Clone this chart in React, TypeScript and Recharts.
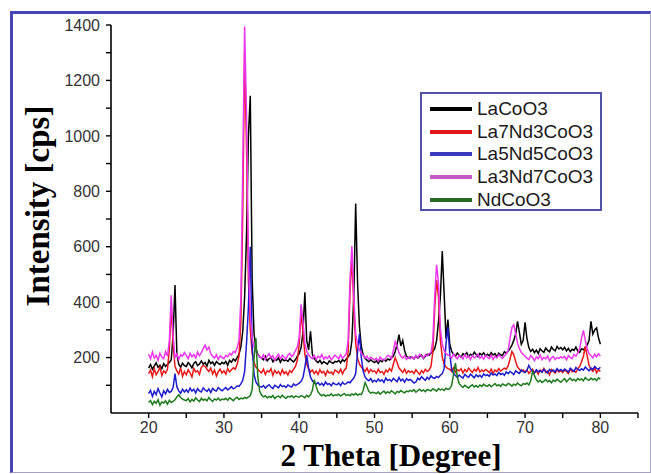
import React from "react";
import { LineChart, Line, XAxis, YAxis, Legend } from "recharts";

// 2-theta sampling grid, 20..80 deg every 0.25 deg
const theta = Array.from({ length: 241 }, (_, i) => 20 + i * 0.25);

// intensities [cps], one row = 5 degrees (20 points), last value at 80 deg
const laCoO3 = [
  162, 175, 158, 170, 181, 165, 172, 160, 178, 168, 175, 182, 192, 280, 462, 212, 176, 165, 180, 171,
  168, 182, 174, 163, 179, 185, 171, 177, 188, 176, 182, 169, 190, 178, 184, 172, 186, 179, 175, 183,
  178, 186, 172, 190, 183, 195, 188, 200, 212, 238, 295, 420, 640, 1000, 1145, 480, 285, 232, 212, 203,
  198, 192, 205, 188, 196, 201, 185, 194, 190, 199, 183, 195, 188, 192, 186, 197, 190, 184, 193, 205,
  214, 236, 292, 436, 262, 228, 295, 212, 196, 188, 182, 190, 178, 185, 181, 176, 188, 183, 179, 186,
  184, 190, 181, 193, 186, 195, 203, 212, 262, 420, 756, 470, 312, 240, 210, 197, 191, 185, 192, 186,
  182, 188, 179, 190, 185, 193, 187, 195, 191, 199, 205, 222, 248, 283, 242, 262, 225, 205, 198, 202,
  201, 195, 206, 198, 204, 209, 197, 205, 212, 208, 216, 222, 232, 262, 330, 420, 584, 430, 268, 337,
  248, 222, 212, 205, 216, 208, 201, 214, 209, 218, 204, 212, 207, 220, 211, 203, 215, 209, 217, 206,
  212, 206, 218, 209, 214, 203, 216, 210, 207, 221, 215, 224, 232, 245, 262, 285, 331, 290, 248, 262,
  327, 268, 236, 222, 230, 218, 227, 215, 232, 224, 219, 235, 226, 221, 238, 229, 224, 240, 231, 236,
  228, 237, 224, 233, 221, 230, 226, 238, 224, 219, 232, 228, 236, 245, 262, 331, 285, 300, 307, 272,
  248,
];
const la7Nd3 = [
  142, 155, 131, 160, 138, 149, 165, 135, 152, 144, 158, 230, 385, 250, 168, 152, 140, 163, 132, 150,
  138, 156, 145, 130, 160, 148, 152, 139, 165, 172, 168, 158, 150, 162, 141, 155, 133, 149, 158, 144,
  152, 140, 161, 148, 156, 163, 158, 175, 205, 330, 720, 1300, 960, 480, 300, 215, 182, 166, 158, 150,
  145, 158, 139, 152, 148, 160, 136, 154, 143, 150, 138, 156, 142, 149, 137, 153, 146, 158, 168, 190,
  250, 362, 292, 212, 176, 160, 148, 155, 142, 151, 139, 156, 145, 150, 136, 153, 144, 148, 139, 155,
  150, 144, 158, 141, 155, 162, 222, 440, 560, 385, 252, 198, 176, 166, 158, 150, 162, 145, 157, 149,
  152, 143, 158, 146, 150, 139, 155, 148, 160, 151, 176, 200, 182, 162, 154, 146, 158, 143, 152, 147,
  151, 142, 156, 147, 139, 153, 145, 158, 150, 155, 168, 220, 380, 480, 420, 262, 202, 176, 166, 160,
  158, 150, 163, 147, 156, 152, 160, 144, 157, 149, 162, 153, 146, 158, 151, 164, 148, 155, 150, 157,
  152, 146, 158, 143, 155, 149, 160, 151, 157, 162, 158, 170, 195, 222, 210, 186, 166, 158, 150, 155,
  148, 156, 143, 151, 158, 145, 153, 140, 155, 149, 161, 146, 152, 138, 157, 150, 144, 156, 148, 153,
  146, 155, 150, 142, 158, 149, 153, 147, 160, 168, 185, 205, 240, 206, 172, 158, 150, 162, 145, 156,
  150,
];
const la5Nd5 = [
  70, 82, 60, 78, 66, 88, 72, 58, 80, 69, 85, 74, 78, 92, 142, 95, 80, 71, 86, 76,
  84, 75, 90, 79, 86, 72, 88, 80, 76, 91, 83, 78, 87, 74, 89, 82, 79, 92, 85, 80,
  86, 92, 83, 89, 95, 87, 91, 98, 96, 105, 118, 150, 250, 380, 600, 240, 140, 112, 101, 96,
  93, 99, 90, 97, 102, 94, 88, 100, 96, 91, 103, 95, 98, 92, 101, 97, 94, 105, 99, 103,
  108, 114, 128, 165, 210, 160, 130, 116, 108, 104, 110, 101, 107, 99, 112, 103, 106, 98, 109, 104,
  102, 108, 99, 111, 104, 106, 112, 109, 118, 126, 142, 220, 285, 200, 150, 130, 121, 116, 124, 112,
  118, 112, 123, 115, 120, 110, 126, 117, 121, 114, 125, 119, 113, 128, 116, 122, 111, 124, 118, 121,
  115, 108, 112, 126, 120, 131, 124, 118, 129, 122, 134, 127, 125, 132, 128, 136, 142, 160, 250, 310,
  212, 158, 142, 135, 128, 137, 131, 126, 139, 133, 129, 140, 134, 127, 138, 131, 136, 129, 141, 135,
  138, 132, 144, 137, 141, 135, 146, 139, 143, 136, 148, 142, 150, 145, 139, 152, 147, 143, 155, 149,
  146, 154, 172, 158, 150, 145, 156, 149, 153, 147, 158, 151, 144, 157, 150, 155, 148, 160, 152, 157,
  151, 159, 154, 148, 162, 156, 150, 164, 158, 153, 160, 155, 166, 159, 152, 163, 157, 168, 161, 158,
  165,
];
const la3Nd7 = [
  212, 195, 220, 198, 208, 190, 215, 202, 196, 222, 205, 260, 425, 280, 200, 214, 193, 210, 205, 218,
  208, 196, 215, 203, 211, 199, 220, 207, 218, 232, 245, 228, 238, 214, 205, 198, 210, 193, 206, 201,
  196, 208, 203, 215, 209, 222, 218, 235, 262, 410, 880, 1395, 1080, 560, 350, 270, 238, 222, 210, 204,
  198, 210, 192, 205, 214, 199, 207, 190, 203, 212, 196, 208, 201, 194, 209, 215, 203, 212, 225, 238,
  275, 392, 330, 252, 222, 210, 201, 196, 208, 193, 205, 199, 211, 194, 203, 197, 206, 192, 200, 209,
  202, 196, 210, 198, 205, 214, 262, 485, 602, 425, 285, 246, 228, 216, 208, 199, 205, 193, 201, 196,
  191, 198, 187, 202, 194, 190, 199, 208, 205, 196, 224, 258, 242, 218, 205, 198, 207, 193, 201, 196,
  203, 196, 208, 199, 212, 205, 198, 210, 206, 214, 218, 262, 420, 535, 470, 305, 248, 226, 214, 209,
  207, 198, 213, 202, 196, 209, 204, 195, 211, 200, 206, 193, 208, 199, 203, 212, 197, 205, 194, 208,
  201, 196, 209, 193, 205, 199, 210, 203, 197, 206, 214, 225, 268, 308, 318, 286, 252, 232, 219, 211,
  205, 198, 193, 207, 200, 189, 203, 196, 210, 192, 201, 195, 206, 188, 199, 204, 193, 200, 197, 203,
  198, 204, 192, 207, 200, 196, 211, 205, 216, 232, 270, 298, 262, 232, 214, 207, 199, 212, 203, 214,
  206,
];
const ndCoO3 = [
  38, 45, 30, 42, 35, 48, 28, 40, 36, 44, 32, 46, 38, 42, 48, 58, 66, 56, 50, 47,
  45, 52, 40, 49, 43, 55, 47, 41, 53, 46, 50, 44, 56, 48, 42, 51, 47, 54, 45, 50,
  48, 53, 46, 55, 50, 44, 52, 57, 49, 54, 51, 56, 53, 58, 62, 85, 200, 270, 130, 78,
  65, 58, 62, 54, 60, 56, 63, 52, 59, 61, 55, 64, 57, 53, 60, 58, 62, 55, 61, 59,
  57, 63, 60, 55, 64, 58, 66, 82, 120, 96, 76, 68, 62, 67, 60, 65, 63, 69, 61, 66,
  64, 68, 61, 66, 70, 63, 67, 62, 69, 65, 71, 64, 68, 66, 82, 110, 95, 78, 72, 75,
  73, 70, 76, 68, 74, 79, 71, 77, 72, 80, 75, 69, 78, 74, 81, 76, 73, 79, 77, 82,
  78, 84, 75, 81, 86, 79, 83, 77, 85, 82, 80, 87, 84, 79, 88, 83, 86, 81, 89, 85,
  88, 100, 140, 180, 130, 106, 98, 92, 100, 95, 90, 97, 102, 94, 99, 93, 101, 96, 104, 98,
  97, 103, 95, 100, 106, 98, 102, 96, 105, 101, 99, 107, 103, 97, 104, 100, 108, 102, 98, 106,
  103, 108, 101, 116, 150, 135, 120, 112, 118, 110, 115, 121, 113, 117, 109, 119, 114, 122, 116, 111,
  118, 124, 113, 120, 126, 117, 122, 115, 125, 119, 123, 116, 128, 121, 118, 126, 120, 124, 117, 127,
  122,
];

// tick marks every 5 deg / 100 cps, labels only on the majors
const xTicks = [20, 25, 30, 35, 40, 45, 50, 55, 60, 65, 70, 75, 80, 85];
const xLabels = [20, 30, 40, 50, 60, 70, 80];
const yTicks = [100, 200, 300, 400, 500, 600, 700, 800, 900, 1000, 1100, 1200, 1300, 1400];
const yLabels = [200, 400, 600, 800, 1000, 1200, 1400];

const series = [
  { key: "laCoO3", name: "LaCoO3", color: "#000000", legend: "#000000", values: laCoO3 },
  { key: "la7Nd3", name: "La7Nd3CoO3", color: "#e81818", legend: "#e01818", values: la7Nd3 },
  { key: "la5Nd5", name: "La5Nd5CoO3", color: "#1c1ccc", legend: "#3a3ac0", values: la5Nd5 },
  { key: "la3Nd7", name: "La3Nd7CoO3", color: "#ec36ec", legend: "#c45cc4", values: la3Nd7 },
  { key: "ndCoO3", name: "NdCoO3", color: "#1d7a1d", legend: "#266a26", values: ndCoO3 },
];

const data = theta.map((t, i) => {
  const row: Record<string, number> = { theta: t };
  series.forEach((s) => (row[s.key] = s.values[i]));
  return row;
});

const serif = '"Liberation Serif", "Times New Roman", serif';
const sans = '"Liberation Sans", Arial, sans-serif';

const XTick = (props: any) => {
  const { x, y, payload } = props;
  if (!xLabels.includes(payload.value)) return <g />;
  return (
    <text x={x} y={y} dy="0.71em" textAnchor="middle" fontFamily={sans} fontSize={16} fill="#333">
      {payload.value}
    </text>
  );
};

const YTick = (props: any) => {
  const { x, y, payload } = props;
  if (!yLabels.includes(payload.value)) return <g />;
  return (
    <text x={x} y={y} dy="0.355em" textAnchor="end" fontFamily={sans} fontSize={16} fill="#333">
      {payload.value}
    </text>
  );
};

const XTitle = () => (
  <text x={391} y={466} textAnchor="middle" fontFamily={serif} fontWeight="bold" fontSize={31} fill="#000">
    2 Theta [Degree]
  </text>
);

const YTitle = () => (
  <text x={49} y={206} transform="rotate(-90 49 206)" textAnchor="middle" fontFamily={serif} fontWeight="bold" fontSize={33} fill="#000">
    Intensity [cps]
  </text>
);

const LegendBox = () => (
  <div
    style={{
      width: 182,
      height: 119,
      boxSizing: "border-box",
      border: "2px solid #5252a8",
      background: "#fff",
      paddingTop: 4,
    }}
  >
    {series.map((s) => (
      <div key={s.key} style={{ display: "flex", alignItems: "center", height: 22.6 }}>
        <div style={{ width: 42, height: 4, marginLeft: 8, background: s.legend }} />
        <span style={{ marginLeft: 5, fontFamily: sans, fontSize: 19, color: "#1a1a1a", lineHeight: "20px" }}>{s.name}</span>
      </div>
    ))}
  </div>
);

export default function App() {
  return (
    <div style={{ position: "absolute", left: 0, top: 0, width: 651, height: 474, background: "#fff" }}>
      {/* picture frame */}
      <div
        style={{
          position: "absolute",
          left: 10,
          top: 11,
          width: 641,
          height: 462,
          boxSizing: "border-box",
          borderTop: "3px solid #4646b6",
          borderLeft: "3px solid #4646b6",
          borderRight: "1px solid #a4a4c8",
          borderBottom: "1px solid #a4a4c8",
        }}
      />
      <div style={{ position: "absolute", left: 0, top: 0 }}>
        <LineChart width={651} height={474} data={data} margin={{ top: 25, right: 13, bottom: 0, left: 0 }}>
          <XAxis
            dataKey="theta"
            type="number"
            domain={[15, 85]}
            ticks={xTicks}
            allowDataOverflow
            height={61}
            tickSize={5}
            tickMargin={4}
            tick={<XTick />}
            axisLine={{ stroke: "#000", strokeWidth: 1.6 }}
            tickLine={{ stroke: "#000", strokeWidth: 1.4 }}
            label={<XTitle />}
          />
          <YAxis
            type="number"
            domain={[0, 1400]}
            ticks={yTicks}
            width={111}
            tickSize={5}
            tickMargin={6}
            tick={<YTick />}
            axisLine={{ stroke: "#000", strokeWidth: 1.6 }}
            tickLine={{ stroke: "#000", strokeWidth: 1.4 }}
            label={<YTitle />}
          />
          <Legend
            layout="vertical"
            align="center"
            verticalAlign="middle"
            content={<LegendBox />}
            wrapperStyle={{ left: 420, top: 92, width: 182, height: 119 }}
          />
          {series.map((s) => (
            <Line
              key={s.key}
              dataKey={s.key}
              name={s.name}
              type="linear"
              stroke={s.color}
              strokeWidth={1.5}
              dot={false}
              isAnimationActive={false}
            />
          ))}
        </LineChart>
      </div>
    </div>
  );
}
